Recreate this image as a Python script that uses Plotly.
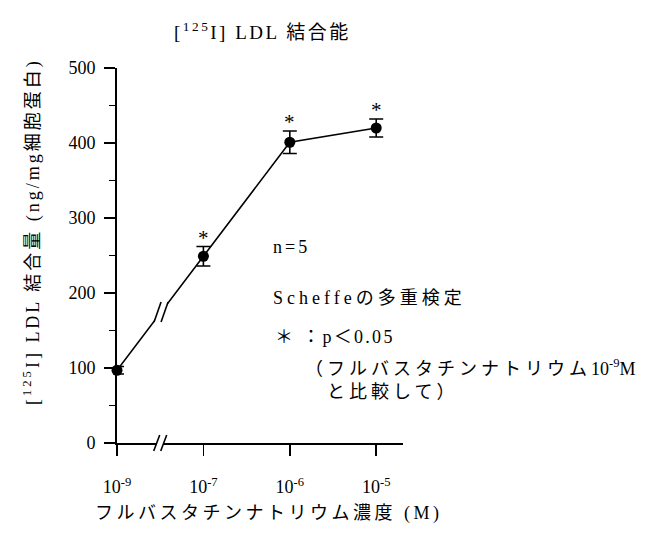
import plotly.graph_objects as go

# ---- data ----
categories = ["10<sup>-9</sup>", "10<sup>-7</sup>", "10<sup>-6</sup>", "10<sup>-5</sup>"]
cat_pos = [0, 1, 2, 3]
ldl_binding = [97, 249, 401, 420]
ldl_error = [5, 13, 15, 12]
significant = [False, True, True, True]
y_ticks = [0, 100, 200, 300, 400, 500]

SERIF = "'Liberation Serif', 'Noto Sans CJK JP', serif"

W, H = 664, 540
L, R, T, B = 117, 261, 68, 97
PW, PH = W - L - R, H - T - B
XR = [0, 3.31]
YR = [0, 500]


def px(x):
    return (x - L) / PW


def py(y):
    return (H - B - y) / PH


def dx2pix(xd):
    return L + (xd - XR[0]) / (XR[1] - XR[0]) * PW


def dy2pix(yd):
    return H - B - (yd - YR[0]) / (YR[1] - YR[0]) * PH


def sp(text, s):
    return f'<span style="letter-spacing:{s}px">{text}</span>'


fig = go.Figure()
fig.add_trace(go.Scatter(
    x=cat_pos, y=ldl_binding, mode="lines+markers",
    line=dict(color="black", width=1.6),
    marker=dict(size=11, color="black"),
    error_y=dict(type="data", array=ldl_error, color="black", thickness=1.6, width=7),
    cliponaxis=False, hoverinfo="skip",
))

annotations = []
for xv, yv, ev, sig in zip(cat_pos, ldl_binding, ldl_error, significant):
    if sig:
        annotations.append(dict(x=xv, y=yv + ev, xref="x", yref="y", text="*",
                                showarrow=False, yanchor="bottom", yshift=-5,
                                font=dict(family=SERIF, size=21, color="black")))


def txt(x, y, text, size=18, xanchor="left", angle=0):
    annotations.append(dict(x=px(x), y=py(y), xref="paper", yref="paper", text=text,
                            showarrow=False, xanchor=xanchor, yanchor="middle",
                            textangle=angle,
                            font=dict(family=SERIF, size=size, color="black")))


txt(262, 31, sp("[<sup>125</sup>I] LDL 結合能", 2.5), size=19, xanchor="center")
txt(32, 232, sp("[<sup>125</sup>I] LDL 結合量 (ng/mg細胞蛋白)", 3), size=18, xanchor="center", angle=-90)
txt(269, 513, sp("フルバスタチンナトリウム濃度 (M)", 3.5), size=18, xanchor="center")
txt(271, 247, sp("n=5", 3))
txt(271, 298, sp("Scheffeの多重検定", 4))
txt(273, 337, sp("＊ ：p＜0.05", 2.3))
txt(303, 367, sp("（フルバスタチンナトリウム", 4) + "10<sup>-9</sup>M")
txt(325, 392, sp("と比較して）", 4))

# ---- break marks ----
shapes = []


def brk(cx, cy, half_dx=3.0, half_dy=9.0, gap=7.0):
    x1, x2 = cx - gap / 2, cx + gap / 2
    pts = [(x1 - half_dx, cy + half_dy), (x1 + half_dx, cy - half_dy),
           (x2 + half_dx, cy - half_dy), (x2 - half_dx, cy + half_dy)]
    path = "M " + " L ".join(f"{px(a):.5f},{py(b):.5f}" for a, b in pts) + " Z"
    shapes.append(dict(type="path", path=path, xref="paper", yref="paper",
                       fillcolor="white", line=dict(width=0), layer="above"))
    for xx in (x1, x2):
        shapes.append(dict(type="line", xref="paper", yref="paper",
                           x0=px(xx - half_dx), y0=py(cy + half_dy),
                           x1=px(xx + half_dx), y1=py(cy - half_dy),
                           line=dict(color="black", width=1.6), layer="above"))


brk_x = (cat_pos[0] + cat_pos[1]) / 2
brk(dx2pix(brk_x), dy2pix(YR[0]), half_dy=8)
line_x = 0.51
line_y = ldl_binding[0] + (ldl_binding[1] - ldl_binding[0]) * (line_x - cat_pos[0]) / (cat_pos[1] - cat_pos[0])
brk(dx2pix(line_x), dy2pix(line_y), half_dx=3.5, half_dy=10)

fig.update_layout(
    width=W, height=H,
    margin=dict(l=L, r=R, t=T, b=B),
    paper_bgcolor="white", plot_bgcolor="white",
    showlegend=False, hovermode=False,
    annotations=annotations, shapes=shapes,
    xaxis=dict(range=XR, tickmode="array", tickvals=cat_pos, ticktext=categories,
               ticks="outside", ticklen=11, tickwidth=1.6, tickcolor="black",
               showline=True, linecolor="black", linewidth=1.8,
               showgrid=False, zeroline=False, ticklabelstandoff=16,
               tickfont=dict(family=SERIF, size=18, color="black")),
    yaxis=dict(range=YR, tickmode="array", tickvals=y_ticks,
               ticks="outside", ticklen=11, tickwidth=1.6, tickcolor="black",
               minor=dict(ticks="outside", ticklen=6, tickwidth=1.5, tickcolor="black",
                          dtick=50, tick0=0),
               showline=True, linecolor="black", linewidth=1.8,
               showgrid=False, zeroline=False, ticklabelstandoff=5,
               tickfont=dict(family=SERIF, size=18, color="black")),
)

fig.write_html("out.html", config={"displayModeBar": False, "staticPlot": True},
               post_script="document.body.style.margin='0';")
